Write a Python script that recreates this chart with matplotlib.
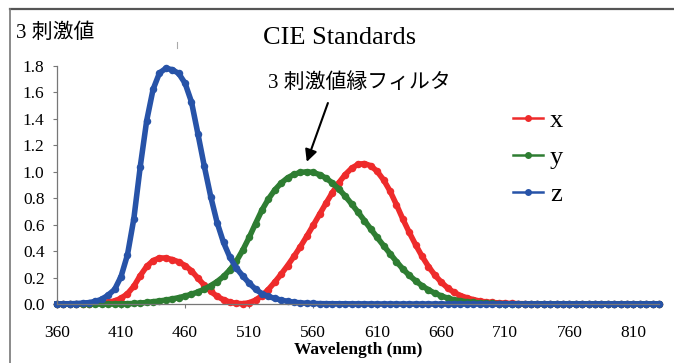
import numpy as np
import matplotlib.pyplot as plt
from matplotlib.lines import Line2D

# CIE 1931 2-degree colour matching functions, 5 nm steps
wavelength = np.arange(360, 835, 5)
x_bar = [0.000130, 0.000232, 0.000415, 0.000742, 0.001368, 0.002236, 0.004243, 0.007650,
         0.014310, 0.023190, 0.043510, 0.077630, 0.134380, 0.214770, 0.283900, 0.328500,
         0.348280, 0.348060, 0.336200, 0.318700, 0.290800, 0.251100, 0.195360, 0.142100,
         0.095640, 0.057950, 0.032010, 0.014700, 0.004900, 0.002400, 0.009300, 0.029100,
         0.063270, 0.109600, 0.165500, 0.225750, 0.290400, 0.359700, 0.433450, 0.512050,
         0.594500, 0.678400, 0.762100, 0.842500, 0.916300, 0.978600, 1.026300, 1.056700,
         1.062200, 1.045600, 1.002600, 0.938400, 0.854450, 0.751400, 0.642400, 0.541900,
         0.447900, 0.360800, 0.283500, 0.218700, 0.164900, 0.121200, 0.087400, 0.063600,
         0.046770, 0.032900, 0.022700, 0.015840, 0.011359, 0.008111, 0.005790, 0.004109,
         0.002899, 0.002049, 0.001440, 0.001000, 0.000690, 0.000476, 0.000332, 0.000235,
         0.000166, 0.000117, 0.000083, 0.000059, 0.000042, 0.000029, 0.000021, 0.000015,
         0.000010, 0.000007, 0.000005, 0.000004, 0.000003, 0.000002, 0.000001]
y_bar = [0.000004, 0.000007, 0.000012, 0.000022, 0.000039, 0.000064, 0.000120, 0.000217,
         0.000396, 0.000640, 0.001210, 0.002180, 0.004000, 0.007300, 0.011600, 0.016840,
         0.023000, 0.029800, 0.038000, 0.048000, 0.060000, 0.073900, 0.090980, 0.112600,
         0.139020, 0.169300, 0.208020, 0.258600, 0.323000, 0.407300, 0.503000, 0.608200,
         0.710000, 0.793200, 0.862000, 0.914850, 0.954000, 0.980300, 0.994950, 1.000000,
         0.995000, 0.978600, 0.952000, 0.915400, 0.870000, 0.816300, 0.757000, 0.694900,
         0.631000, 0.566800, 0.503000, 0.441200, 0.381000, 0.321000, 0.265000, 0.217000,
         0.175000, 0.138200, 0.107000, 0.081600, 0.061000, 0.044580, 0.032000, 0.023200,
         0.017000, 0.011920, 0.008210, 0.005723, 0.004102, 0.002929, 0.002091, 0.001484,
         0.001047, 0.000740, 0.000520, 0.000361, 0.000249, 0.000172, 0.000120, 0.000085,
         0.000060, 0.000042, 0.000030, 0.000021, 0.000015, 0.000011, 0.000007, 0.000005,
         0.000004, 0.000003, 0.000002, 0.000001, 0.000001, 0.000001, 0.000000]
z_bar = [0.000606, 0.001086, 0.001946, 0.003486, 0.006450, 0.010550, 0.020050, 0.036210,
         0.067850, 0.110200, 0.207400, 0.371300, 0.645600, 1.039050, 1.385600, 1.622960,
         1.747060, 1.782600, 1.772110, 1.744100, 1.669200, 1.528100, 1.287640, 1.041900,
         0.812950, 0.616200, 0.465180, 0.353300, 0.272000, 0.212300, 0.158200, 0.111700,
         0.078250, 0.057250, 0.042160, 0.029840, 0.020300, 0.013400, 0.008750, 0.005750,
         0.003900, 0.002750, 0.002100, 0.001800, 0.001650, 0.001400, 0.001100, 0.001000,
         0.000800, 0.000600, 0.000340, 0.000240, 0.000190, 0.000100, 0.000050, 0.000030,
         0.000020, 0.000010] + [0.0] * 37

series = [("x", x_bar, "#ee2b2b"), ("y", y_bar, "#2e7d32"), ("z", z_bar, "#2753a8")]
xticks = np.arange(360, 811, 50)
yticks = np.arange(0, 1.81, 0.2)

SERIF = "Liberation Serif"
JP = [SERIF, "Noto Sans CJK JP"]

fig = plt.figure(figsize=(6.74, 3.63), dpi=100)
W, H = 674.0, 363.0
ax = fig.add_axes([57 / W, 1 - 304 / H, (659 - 57) / W, (304 - 66) / H])

for name, vals, col in series:
    ax.plot(wavelength, vals, color=col, lw=4.0, marker="o", ms=5.4,
            markeredgewidth=0, label=name, clip_on=False)

ax.set_xlim(360, 830)
ax.set_ylim(0, 1.8)
ax.set_xticks(xticks)
ax.set_yticks(yticks)
ax.set_yticklabels(["%.1f" % v for v in yticks])
for sp in ["top", "right"]:
    ax.spines[sp].set_visible(False)
for sp in ["left", "bottom"]:
    ax.spines[sp].set_color("#777777")
    ax.spines[sp].set_linewidth(0.9)
ax.tick_params(axis="y", direction="out", length=3, width=0.8, color="#777777", pad=6)
ax.tick_params(axis="x", direction="out", length=3, width=0.8, color="#777777", pad=12)
for lab in ax.get_xticklabels() + ax.get_yticklabels():
    lab.set_fontfamily(SERIF)
    lab.set_fontsize(12.5)

ax.set_xlabel("Wavelength (nm)", family=SERIF, fontsize=12.5, fontweight="bold")
ax.xaxis.set_label_coords(0.5, -0.158)

fig.text(340 / W, 1 - 38 / H, "CIE Standards", family=SERIF, fontsize=19,
         ha="center", va="center")
fig.text(16 / W, 1 - 33 / H, "3 刺激値", family=JP, fontsize=15,
         ha="left", va="center")

ax.text(596, 1.67, "3 刺激値縁フィルタ", family=JP, fontsize=15,
        ha="center", va="center")
ax.annotate("", xy=(555, 1.075), xytext=(571.5, 1.52),
            arrowprops=dict(arrowstyle="-|>", color="black", lw=1.5,
                            mutation_scale=18, shrinkA=0, shrinkB=0))

handles = [Line2D([], [], color=c, lw=1.8, marker="o", ms=5, markeredgewidth=0)
           for _, _, c in series]
ax.legend(handles, [s[0] for s in series], loc="upper left",
          bbox_to_anchor=(513 / W, 1 - 109 / H), bbox_transform=fig.transFigure,
          frameon=False, prop={"family": SERIF, "size": 19}, handlelength=1.15,
          handletextpad=0.25, labelspacing=0.5, borderpad=0, borderaxespad=0)

# outer chart border and the small mark above the title area
fig.add_artist(Line2D([10 / W, 1.0], [1 - 9 / H, 1 - 9 / H], color="#555555", lw=1.6))
fig.add_artist(Line2D([10 / W, 10 / W], [0, 1 - 9 / H], color="#777777", lw=1.2))
fig.add_artist(Line2D([176.5 / W, 176.5 / W], [1 - 42 / H, 1 - 48 / H], color="#aaaaaa", lw=0.8))

fig.savefig("out.png", dpi=100)
